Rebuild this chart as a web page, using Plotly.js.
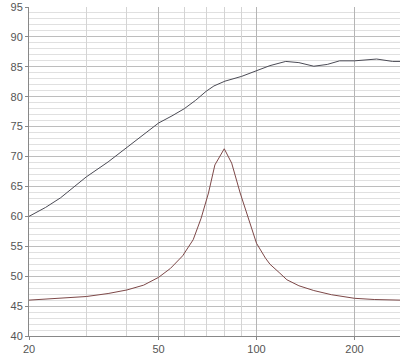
<!DOCTYPE html>
<html>
<head>
<meta charset="utf-8">
<script src="https://cdn.plot.ly/plotly-3.0.1.min.js"></script>
<style>html,body{margin:0;padding:0;background:#fff}#chart{width:400px;height:356px}</style>
</head>
<body>
<div id="chart"></div>
<script>
// Upper curve (SPL)
const splFreq = [20, 22.5, 25, 27.5, 30, 35, 40, 45, 50, 55, 60, 65, 70, 74, 80, 90, 100, 110, 123, 135, 150, 165, 180, 200, 234, 262, 276];
const splVals = [60.0, 61.5, 63.1, 64.9, 66.6, 69.1, 71.5, 73.6, 75.6, 76.8, 78.0, 79.4, 80.9, 81.8, 82.6, 83.4, 84.4, 85.2, 85.9, 85.7, 85.1, 85.4, 86.0, 86.0, 86.3, 85.9, 85.9];
// Lower curve (impedance)
const impFreq = [20, 25, 30, 35, 40, 45, 50, 54.4, 59.3, 63.9, 67.6, 71.2, 74.5, 79.6, 83.9, 89.1, 94.9, 100, 106.6, 110, 118, 124, 135, 150, 170, 200, 230, 276];
const impVals = [46.0, 46.3, 46.6, 47.1, 47.7, 48.5, 49.8, 51.3, 53.4, 56.1, 59.7, 63.9, 68.6, 71.3, 68.9, 63.9, 59.1, 55.5, 53.0, 52.0, 50.5, 49.4, 48.4, 47.6, 46.9, 46.3, 46.1, 46.0];
const xTicks = [20, 50, 100, 200];
const xMinor = [30, 40, 60, 70, 80, 90];
const yTicks = [40, 45, 50, 55, 60, 65, 70, 75, 80, 85, 90, 95];

const xRange = [Math.log10(20), Math.log10(276)];
const traces = [
  {x: splFreq, y: splVals, xaxis: 'x2', yaxis: 'y', mode: 'lines', line: {color: '#4b4b55', width: 1}, hoverinfo: 'skip'},
  {x: impFreq, y: impVals, xaxis: 'x2', yaxis: 'y', mode: 'lines', line: {color: '#7d4848', width: 1}, hoverinfo: 'skip'},
  {x: [20], y: [40], xaxis: 'x', yaxis: 'y', mode: 'markers', marker: {opacity: 0}, hoverinfo: 'skip'}
];
const layout = {
  width: 400, height: 356,
  margin: {l: 29, r: 0, t: 7, b: 20},
  paper_bgcolor: '#fff', plot_bgcolor: '#fff',
  showlegend: false,
  font: {family: 'Liberation Sans, Arial, sans-serif', size: 11, color: '#555'},
  xaxis: {
    type: 'log', range: xRange,
    tickmode: 'array', tickvals: xTicks, ticktext: xTicks.map(String),
    showgrid: true, gridcolor: '#b5b5b5', gridwidth: 1,
    showline: true, linecolor: '#888', linewidth: 1,
    ticks: 'outside', ticklen: 3, tickcolor: '#888',
    zeroline: false, fixedrange: true
  },
  xaxis2: {
    type: 'log', range: xRange, overlaying: 'x',
    tickmode: 'array', tickvals: xMinor, showticklabels: false, ticks: '',
    showgrid: true, gridcolor: '#d4d4d4', gridwidth: 1,
    showline: false, zeroline: false, fixedrange: true
  },
  yaxis: {
    range: [40, 95],
    tickmode: 'array', tickvals: yTicks, ticktext: yTicks.map(String),
    showgrid: true, gridcolor: '#bdbdbd', gridwidth: 1,
    minor: {dtick: 1, showgrid: true, gridcolor: '#e0e0e0', gridwidth: 1, ticks: ''},
    showline: true, linecolor: '#888', linewidth: 1,
    ticks: 'outside', ticklen: 3, tickcolor: '#888',
    zeroline: false, fixedrange: true
  }
};
Plotly.newPlot('chart', traces, layout, {staticPlot: true, displayModeBar: false});
</script>
</body>
</html>
